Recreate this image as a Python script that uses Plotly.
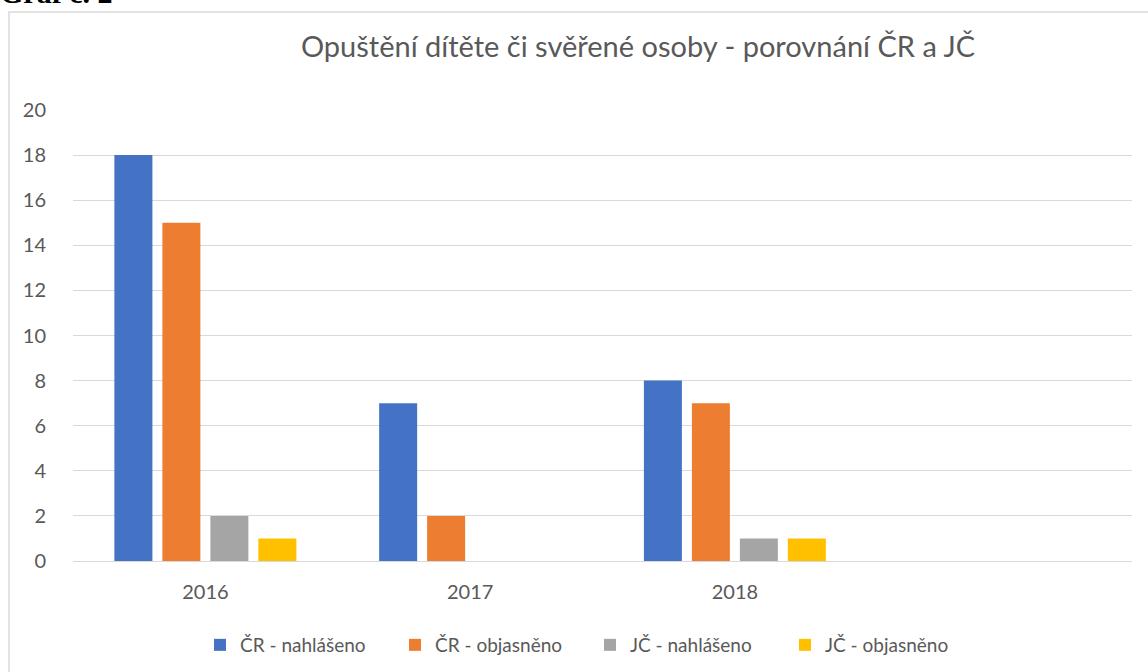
import plotly.graph_objects as go

years = ["2016", "2017", "2018"]
cr_nahlaseno = [18, 7, 8]
cr_objasneno = [15, 2, 7]
jc_nahlaseno = [2, 0, 1]
jc_objasneno = [1, 0, 1]

series = [
    ("ČR - nahlášeno", cr_nahlaseno, "#4472C4"),
    ("ČR - objasněno", cr_objasneno, "#ED7D31"),
    ("JČ - nahlášeno", jc_nahlaseno, "#A5A5A5"),
    ("JČ - objasněno", jc_objasneno, "#FFC000"),
]

W, H = 1148, 672
L, R, T, B = 73, 16, 110, 111
pw, ph = W - L - R, H - T - B

FONT = "Lato"
GREY = "#595959"

fig = go.Figure()
for name, vals, col in series:
    fig.add_trace(go.Bar(x=years, y=vals, name=name, marker=dict(color=col, line=dict(width=0))))

fig.update_layout(
    width=W, height=H,
    margin=dict(l=L, r=R, t=T, b=B, autoexpand=False),
    paper_bgcolor="white", plot_bgcolor="white",
    barmode="group", bargap=0.275, bargroupgap=0.208,
    font=dict(family=FONT, color=GREY, size=19),
    title=dict(text="Opuštění dítěte či svěřené osoby - porovnání ČR a JČ",
               x=638 / W, xanchor="center", xref="container",
               y=1 - 47 / H, yanchor="middle", yref="container",
               font=dict(family=FONT, size=29, color=GREY)),
    legend=dict(orientation="h", x=(200 - L) / pw, xanchor="left",
                y=(H - B - 645) / ph, yanchor="middle",
                font=dict(family=FONT, size=19, color=GREY),
                itemwidth=30, entrywidth=150, entrywidthmode="pixels",
                tracegroupgap=0),
    xaxis=dict(type="category", range=[-0.5, 3.5], showgrid=False, showline=False,
               zeroline=False, ticks="outside", ticklen=13, tickcolor="rgba(0,0,0,0)",
               tickfont=dict(family=FONT, size=20, color=GREY)),
    yaxis=dict(range=[0, 20], dtick=2, showgrid=True, gridcolor="#D9D9D9", gridwidth=1,
               zeroline=True, zerolinecolor="#D9D9D9", zerolinewidth=1, showline=False,
               ticks="outside", ticklen=22, tickcolor="rgba(0,0,0,0)",
               tickfont=dict(family=FONT, size=20, color=GREY)),
    shapes=[dict(type="rect", xref="paper", yref="paper",
                 x0=(9 - L) / pw, x1=(W + 5 - L) / pw,
                 y0=(H - B - (H + 5)) / ph, y1=(H - B - 12) / ph,
                 line=dict(color="#D9D9D9", width=1.5), layer="below")],
    annotations=[dict(text="<b>Graf č. 2</b>", xref="paper", yref="paper",
                      x=(-2 - L) / pw, xanchor="left",
                      y=(H - B - 11) / ph, yanchor="bottom", showarrow=False,
                      font=dict(family="Liberation Serif", size=30, color="black"))],
)

fig.write_html("out.html", config={"displayModeBar": False},
               post_script="document.body.style.margin='0';document.body.style.overflow='hidden';")
